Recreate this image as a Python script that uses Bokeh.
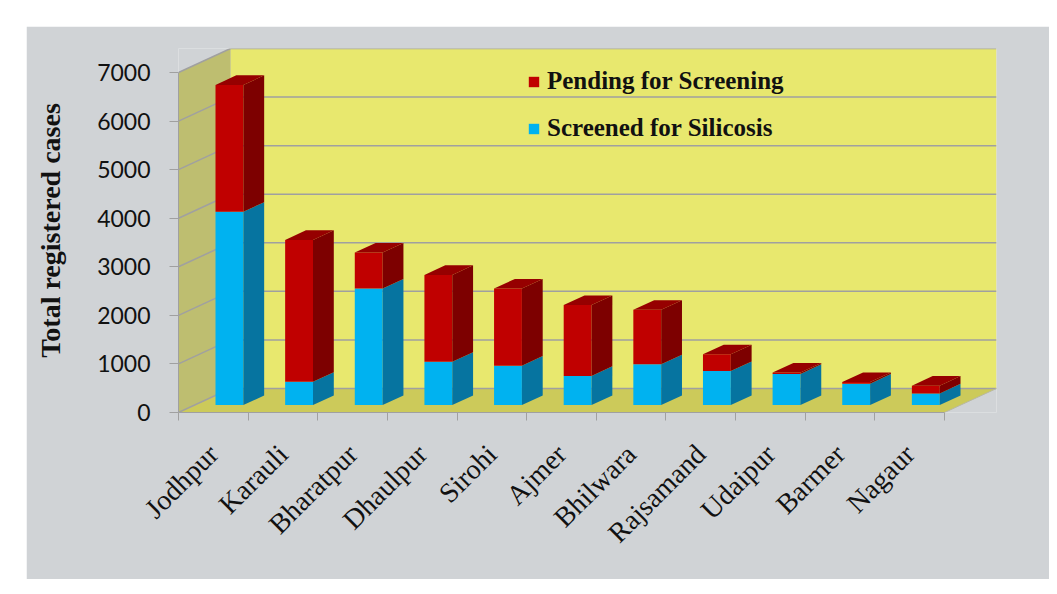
import numpy as np
from math import pi
from bokeh.plotting import figure
from bokeh.models import Range1d, FixedTicker, Legend, LegendItem
from bokeh.embed import file_html
from bokeh.resources import INLINE

# ---------------- data ----------------
districts = ["Jodhpur", "Karauli", "Bharatpur", "Dhaulpur", "Sirohi", "Ajmer",
             "Bhilwara", "Rajsamand", "Udaipur", "Barmer", "Nagaur"]
screened = [3980, 480, 2400, 890, 810, 600, 840, 700, 640, 440, 240]
pending = [2610, 2920, 740, 1790, 1590, 1460, 1120, 345, 30, 35, 160]
y_ticks = [0, 1000, 2000, 3000, 4000, 5000, 6000, 7000]

# ---------------- style ----------------
PANEL = "#D0D3D6"
BACK = "#E8E86E"
SIDE = "#BEBE70"
FLOOR = "#CCCA5A"
GRID = "#A0A0A0"
RED = ("#C00000", "#7D0000", "#960000")    # front, side, top
BLUE = ("#00B2F0", "#0674A0", "#0C8FC4")

n = len(districts)
YMAX = y_ticks[-1]
PXX = 69.64               # px per category
PXY = 340.0 / YMAX        # px per case
DX = 52.0 / PXX           # chart depth in data units
DY = 24.0 / PXY
D0 = 0.31                 # bar front depth fraction
DD = 0.40                 # bar depth fraction
W = 0.40                  # bar width (categories)

FW, FH = 818, 364
p = figure(frame_width=FW, frame_height=FH,
           x_range=Range1d(0, n + DX), y_range=Range1d(0, YMAX + DY),
           output_backend="svg", toolbar_location=None,
           min_border_left=152, min_border_right=53,
           min_border_top=22, min_border_bottom=167,
           background_fill_color=PANEL, border_fill_color=PANEL,
           outline_line_color=None)
p.margin = (26, 0, 0, 26)
p.xgrid.visible = False
p.ygrid.visible = False

# walls and floor
p.quad(left=[DX], right=[n + DX], bottom=[DY], top=[YMAX + DY],
       fill_color=BACK, line_color=None)
p.patch([0, DX, DX, 0], [0, DY, YMAX + DY, YMAX], fill_color=SIDE, line_color=None)
p.patch([0, n, n + DX, DX], [0, 0, DY, DY], fill_color=FLOOR, line_color=None)

yt = np.array(y_ticks, dtype=float)
p.segment(x0=np.full(len(yt), DX), y0=yt + DY, x1=np.full(len(yt), n + DX), y1=yt + DY,
          line_color=GRID, line_width=1.5)
p.segment(x0=np.zeros(len(yt)), y0=yt, x1=np.full(len(yt), DX), y1=yt + DY,
          line_color=GRID, line_width=1.5)
p.segment(x0=[n], y0=[0], x1=[n + DX], y1=[DY], line_color="#B8B8A0", line_width=1)

# bars
idx = np.arange(n)
scr = np.array(screened, dtype=float)
tot = scr + np.array(pending, dtype=float)
left = idx + 0.5 - W / 2 + D0 * DX
right = left + W
ox, oy = DD * DX, DD * DY


def segment_faces(b, t, cols, top_face):
    fb = b + D0 * DY
    ft = t + D0 * DY
    r = p.quad(left=left, right=right, bottom=fb, top=ft, fill_color=cols[0], line_color=None)
    xs = [[rr, rr + ox, rr + ox, rr] for rr in right]
    ys = [[bb, bb + oy, tt + oy, tt] for bb, tt in zip(fb, ft)]
    p.patches(xs, ys, fill_color=cols[1], line_color=None)
    if top_face:
        xs = [[ll, rr, rr + ox, ll + ox] for ll, rr in zip(left, right)]
        ys = [[tt, tt, tt + oy, tt + oy] for tt in ft]
        p.patches(xs, ys, fill_color=cols[2], line_color=None)
    return r


r_blue = segment_faces(np.zeros(n), scr, BLUE, False)
r_red = segment_faces(scr, tot, RED, True)

# axes
yax = p.yaxis[0]
yax.ticker = FixedTicker(ticks=y_ticks)
yax.bounds = (0, YMAX)
yax.axis_line_color = GRID
yax.major_tick_line_color = GRID
yax.major_tick_out = 9
yax.major_tick_in = 0
yax.minor_tick_line_color = None
yax.major_label_standoff = 19
yax.major_label_text_font = "Lato"
yax.major_label_text_font_size = "23px"
yax.major_label_text_color = "#111111"
yax.axis_label = "Total registered cases"
yax.axis_label_text_font = "Liberation Serif"
yax.axis_label_text_font_style = "bold"
yax.axis_label_text_font_size = "28px"
yax.axis_label_text_color = "#111111"
yax.axis_label_standoff = 28

xax = p.xaxis[0]
centers = [i + 0.5 for i in range(n)]
xax.ticker = FixedTicker(ticks=centers, minor_ticks=list(range(n + 1)))
xax.bounds = (0, n)
xax.major_label_overrides = {c: d for c, d in zip(centers, districts)}
xax.axis_line_color = GRID
xax.major_tick_out = 0
xax.major_tick_in = 0
xax.minor_tick_out = 8
xax.minor_tick_in = 0
xax.minor_tick_line_color = GRID
xax.major_label_orientation = pi / 4
xax.major_label_standoff = 29
xax.major_label_text_font = "Liberation Serif"
xax.major_label_text_font_size = "28px"
xax.major_label_text_color = "#111111"

legend = Legend(items=[LegendItem(label="Pending for Screening", renderers=[r_red]),
                       LegendItem(label="Screened for Silicosis", renderers=[r_blue])],
                location=(349, 270), orientation="vertical",
                background_fill_alpha=0, border_line_color=None,
                glyph_width=13, glyph_height=13, label_standoff=7,
                spacing=19, padding=0, margin=0,
                label_text_font="Liberation Serif", label_text_font_style="bold",
                label_text_font_size="25px", label_text_color="#111111")
p.add_layout(legend)

open("out.html", "w").write(file_html(p, INLINE))
